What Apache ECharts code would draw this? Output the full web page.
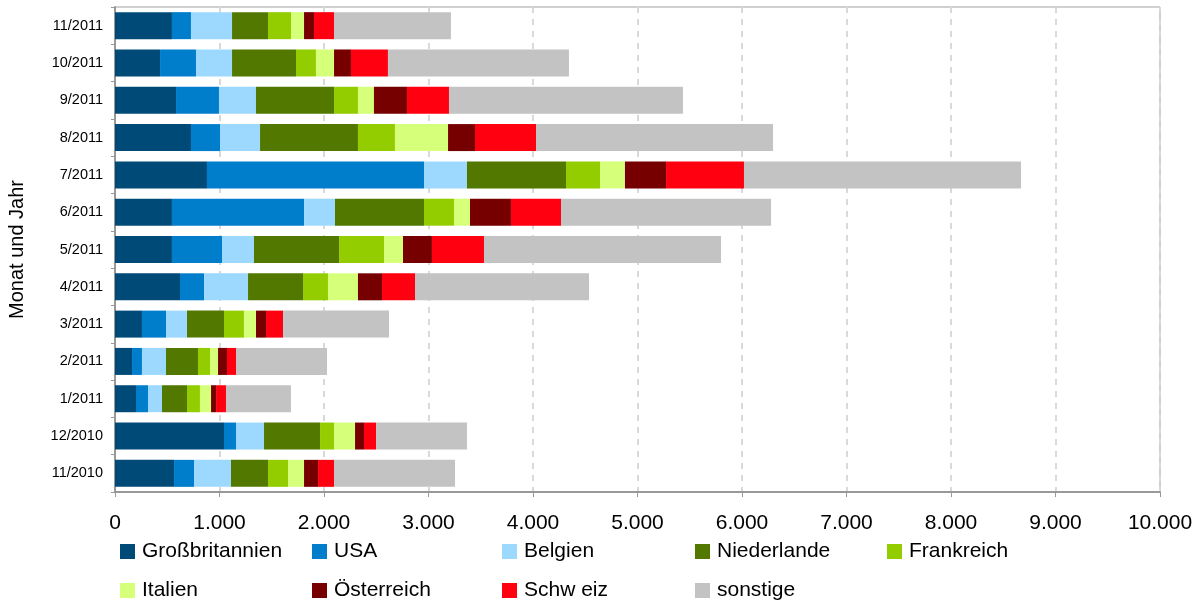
<!DOCTYPE html>
<html><head><meta charset="utf-8">
<script src="https://cdn.jsdelivr.net/npm/echarts@6/dist/echarts.min.js"></script>
<style>html,body{margin:0;padding:0;background:#fff}#c{width:1201px;height:607px}</style>
</head><body><div id="c"></div>
<script>
const categories = ['11/2010','12/2010','1/2011','2/2011','3/2011','4/2011','5/2011','6/2011','7/2011','8/2011','9/2011','10/2011','11/2011'];
const seriesNames = ['Großbritannien','USA','Belgien','Niederlande','Frankreich','Italien','Österreich','Schw eiz','sonstige'];
const grossbritannien = [565,1043,201,163,258,622,545,545,880,727,584,431,545];
const usa            = [191,115,115,95,230,230,479,1264,2077,278,411,344,182];
const belgien        = [354,268,134,230,201,421,306,296,411,383,354,345,393];
const niederlande    = [354,536,239,306,354,526,814,852,948,937,747,612,344];
const frankreich     = [192,134,124,115,191,239,430,287,325,354,229,191,220];
const italien        = [153,201,106,77,115,287,182,153,239,508,153,173,125];
const oesterreich    = [134,86,48,86,96,230,277,392,393,258,316,162,95];
const schweiz        = [153,115,95,86,163,316,498,479,746,584,402,354,192];
const sonstige       = [1158,870,622,871,1014,1665,2268,2010,2651,2268,2239,1732,1119];
const xTicks = [0,1000,2000,3000,4000,5000,6000,7000,8000,9000,10000];

const values = [grossbritannien,usa,belgien,niederlande,frankreich,italien,oesterreich,schweiz,sonstige];
const colors = ['#004a78','#007dcb','#9dd9ff','#537800','#93cd00','#d6ff7a','#760000','#ff0011','#c3c3c3'];

const legendPos = [[120,541],[312,541],[502,541],[695,541],[887,541],[120,580],[312,580],[502,580],[695,580]];
const legends = seriesNames.map((n,i)=>({
  data:[n], left:legendPos[i][0], top:legendPos[i][1], itemWidth:15, itemHeight:15, itemGap:7,
  icon:'rect', textStyle:{fontFamily:'Liberation Sans', fontSize:21, color:'#000', padding:[0,0,0,2]}, padding:0, selectedMode:false
}));

const chart = echarts.init(document.getElementById('c'));
chart.setOption({
  animation:false,
  textStyle:{fontFamily:'Liberation Sans'},
  legend: legends,
  grid:{left:115,right:41,top:7,bottom:115,outerBoundsMode:'none',containLabel:false,show:true,borderColor:'#a0a0a0',borderWidth:1},
  xAxis:{
    type:'value', min:0, max:10000, interval:1000,
    axisLine:{show:true,lineStyle:{color:'#999',width:2}},
    axisTick:{show:true,length:5,lineStyle:{color:'#999'}},
    axisLabel:{margin:21,fontSize:21,color:'#000',fontFamily:'Liberation Sans',
      formatter:v=>{const t=xTicks.indexOf(v); const val=t>=0?xTicks[t]:v; return val.toString().replace(/\B(?=(\d{3})+(?!\d))/g,'.');}},
    splitLine:{show:true,lineStyle:{color:'#d9d9d9',type:[6,6],width:2}}
  },
  yAxis:{
    type:'category', data:categories,
    name:'Monat und Jahr', nameLocation:'middle', nameGap:88, nameRotate:90,
    nameTextStyle:{fontSize:20,color:'#000',fontFamily:'Liberation Sans'},
    axisLine:{show:true,lineStyle:{color:'#999',width:2}},
    axisTick:{show:true,length:4,lineStyle:{color:'#999'}},
    axisLabel:{fontSize:14.5,color:'#000',margin:12,fontFamily:'Liberation Sans'}
  },
  series: seriesNames.map((n,i)=>({
    name:n, type:'bar', stack:'total', data:values[i], barWidth:27,
    itemStyle:{color:colors[i]}
  }))
});
</script></body></html>
